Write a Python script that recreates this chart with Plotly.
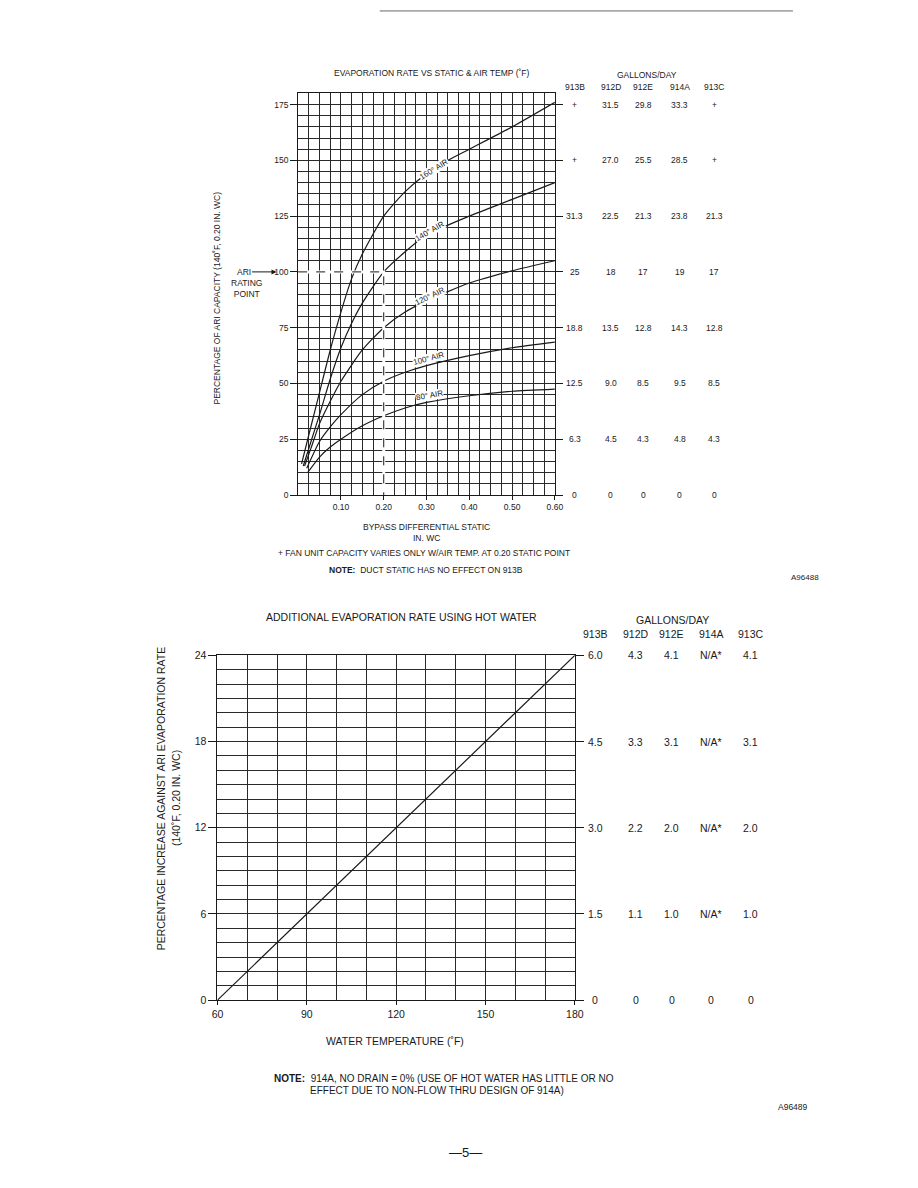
import plotly.graph_objects as go

W, H = 918, 1188
FONT = "Liberation Sans, Arial, sans-serif"
INK = "#1a1a1a"
GRID = "#2a2a2a"

# ---------------- Top chart data ----------------
air_labels = ["80° AIR", "100° AIR", "120° AIR", "140° AIR", "160° AIR"]
static_80 = [0.022, 0.05, 0.075, 0.10, 0.15, 0.20, 0.25, 0.30, 0.40, 0.50, 0.60]
pct_80 = [10, 17, 21.5, 25, 31, 35.5, 39, 41.5, 44.5, 46.5, 47.5]
static_100 = [0.020, 0.05, 0.075, 0.10, 0.15, 0.20, 0.25, 0.30, 0.40, 0.50, 0.60]
pct_100 = [12, 24, 30.5, 36, 45, 51, 55, 58, 62.5, 66, 68.5]
static_120 = [0.015, 0.03, 0.05, 0.075, 0.10, 0.15, 0.20, 0.25, 0.30, 0.40, 0.50, 0.60]
pct_120 = [13, 21, 32, 42, 51, 65, 75, 82, 87, 95, 100.5, 105]
static_140 = [0.012, 0.03, 0.05, 0.075, 0.10, 0.125, 0.15, 0.20, 0.25, 0.30, 0.40, 0.50, 0.60]
pct_140 = [13, 24, 36, 52, 66, 77, 86, 100, 109, 116.5, 125, 132.5, 140]
static_160 = [0.008, 0.025, 0.05, 0.075, 0.10, 0.125, 0.15, 0.20, 0.25, 0.30, 0.35, 0.40, 0.50, 0.60]
pct_160 = [14, 27, 46, 65, 82, 97, 108, 125, 136, 144, 150, 155, 165, 176]

# label positions along curves (static, pct, angle)
label_static = [0.307, 0.306, 0.307, 0.307, 0.317]
label_pct = [44.5, 61, 89, 118, 146]
label_angle = [-10, -15, -26, -30, -32]

ari_static = 0.20
ari_pct = 100

top_xticks = [0.10, 0.20, 0.30, 0.40, 0.50, 0.60]
top_xtick_text = ["0.10", "0.20", "0.30", "0.40", "0.50", "0.60"]
top_yticks = [0, 25, 50, 75, 100, 125, 150, 175]

top_models = ["913B", "912D", "912E", "914A", "913C"]
top_rows = [175, 150, 125, 100, 75, 50, 25, 0]
top_913B = ["+", "+", "31.3", "25", "18.8", "12.5", "6.3", "0"]
top_912D = ["31.5", "27.0", "22.5", "18", "13.5", "9.0", "4.5", "0"]
top_912E = ["29.8", "25.5", "21.3", "17", "12.8", "8.5", "4.3", "0"]
top_914A = ["33.3", "28.5", "23.8", "19", "14.3", "9.5", "4.8", "0"]
top_913C = ["+", "+", "21.3", "17", "12.8", "8.5", "4.3", "0"]

# ---------------- Bottom chart data ----------------
water_temp = [60, 180]
pct_increase = [0, 24]
bot_xticks = [60, 90, 120, 150, 180]
bot_yticks = [0, 6, 12, 18, 24]
bot_rows = [24, 18, 12, 6, 0]
bot_913B = ["6.0", "4.5", "3.0", "1.5", "0"]
bot_912D = ["4.3", "3.3", "2.2", "1.1", "0"]
bot_912E = ["4.1", "3.1", "2.0", "1.0", "0"]
bot_914A = ["N/A*", "N/A*", "N/A*", "N/A*", "0"]
bot_913C = ["4.1", "3.1", "2.0", "1.0", "0"]


def px(x):
    return x / W


def py(y):
    return 1 - y / H


fig = go.Figure()

curves = [(static_80, pct_80), (static_100, pct_100), (static_120, pct_120),
          (static_140, pct_140), (static_160, pct_160)]
for (xs, ys), name in zip(curves, air_labels):
    fig.add_trace(go.Scatter(x=xs, y=ys, mode="lines",
                             line=dict(color=INK, width=1.2, shape="spline", smoothing=0.6),
                             name=name, xaxis="x", yaxis="y", showlegend=False, hoverinfo="skip"))

# ARI rating point guide: white underlay hides the grid, then dashed line
fig.add_trace(go.Scatter(x=[0, ari_static, ari_static], y=[ari_pct, ari_pct, 0], mode="lines",
                         line=dict(color="white", width=3), xaxis="x", yaxis="y",
                         showlegend=False, hoverinfo="skip"))
fig.add_trace(go.Scatter(x=[0, ari_static, ari_static], y=[ari_pct, ari_pct, 0], mode="lines",
                         line=dict(color=INK, width=1, dash="dash"), xaxis="x", yaxis="y",
                         showlegend=False, hoverinfo="skip"))

fig.add_trace(go.Scatter(x=water_temp, y=pct_increase, mode="lines", line=dict(color=INK, width=1.2),
                         xaxis="x2", yaxis="y2", showlegend=False, hoverinfo="skip"))

axis_common = dict(showline=True, linecolor=INK, linewidth=1, zeroline=False,
                   gridcolor=GRID, gridwidth=1, ticks="outside", tickcolor=INK, fixedrange=True)

fig.update_layout(
    width=W, height=H, margin=dict(l=0, r=0, t=0, b=0),
    paper_bgcolor="white", plot_bgcolor="white",
    font=dict(family=FONT, color=INK),
    xaxis=dict(domain=[px(297), px(558)], range=[0, 0.6], tickmode="array",
               tickvals=top_xticks, ticktext=top_xtick_text, ticklen=4, mirror=True,
               minor=dict(tickmode="linear", tick0=0, dtick=0.025, showgrid=True,
                          gridcolor=GRID, gridwidth=1),
               tickfont=dict(family=FONT, color=INK, size=8.5), anchor="y", **axis_common),
    yaxis=dict(domain=[py(494), py(88.3)], range=[0, 180], tickmode="array",
               tickvals=top_yticks, ticklen=7, mirror="ticks",
               minor=dict(tickmode="linear", tick0=0, dtick=5, showgrid=True,
                          gridcolor=GRID, gridwidth=1),
               tickfont=dict(family=FONT, color=INK, size=8.5), anchor="x", **axis_common),
    xaxis2=dict(domain=[px(215), px(578.3)], range=[60, 180], tickmode="array",
                tickvals=bot_xticks, ticklen=4, mirror=True,
                minor=dict(tickmode="linear", tick0=60, dtick=10, showgrid=True,
                           gridcolor=GRID, gridwidth=1),
                tickfont=dict(family=FONT, color=INK, size=10.5), anchor="y2", **axis_common),
    yaxis2=dict(domain=[py(1004.3), py(656)], range=[0, 24], tickmode="array",
                tickvals=bot_yticks, ticklen=8, mirror="ticks",
                minor=dict(tickmode="linear", tick0=0, dtick=1, showgrid=True,
                           gridcolor=GRID, gridwidth=1),
                tickfont=dict(family=FONT, color=INK, size=10.5), anchor="x2", **axis_common),
)

ann = []


def text(x, y, s, size, xanchor="center", yanchor="middle", angle=0, xref="paper", yref="paper", **kw):
    ann.append(dict(x=x, y=y, text=s, xref=xref, yref=yref, showarrow=False, xanchor=xanchor,
                    yanchor=yanchor, textangle=angle, font=dict(family=FONT, size=size, color=INK), **kw))


# curve labels (white box breaks the curve like the original)
for lx, ly, la, name in zip(label_static, label_pct, label_angle, air_labels):
    text(lx, ly, name, 8, angle=la, xref="x", yref="y", bgcolor="white", borderpad=0)

# top chart texts
text(px(433), py(68), "EVAPORATION RATE VS STATIC &amp; AIR TEMP (˚F)", 8.5)
text(px(652), py(70), "GALLONS/DAY", 8.5)
top_cols_x = [578, 615, 648, 685, 720]
for cx, name in zip(top_cols_x, top_models):
    text(px(cx), py(82), name, 8.5)
for col, cx in zip([top_913B, top_912D, top_912E, top_914A, top_913C], top_cols_x):
    for r, v in zip(top_rows, col):
        text(px(cx), r, v, 8.5, yref="y")

text(px(215), py(295), "PERCENTAGE OF ARI CAPACITY (140˚F, 0.20 IN. WC)", 8.5, angle=-90)
ann.append(dict(x=px(275), y=ari_pct, xref="paper", yref="y", text="ARI", showarrow=True,
                ax=-33, ay=0, arrowhead=2, arrowsize=1, arrowwidth=1, arrowcolor=INK,
                font=dict(family=FONT, size=8.5, color=INK)))
text(px(244), py(285), "RATING<br>POINT", 8.5)

text(px(427), py(526), "BYPASS DIFFERENTIAL STATIC", 8.5)
text(px(427), py(537), "IN. WC", 8.5)
text(px(425), py(553), "+ FAN UNIT CAPACITY VARIES ONLY W/AIR TEMP. AT 0.20 STATIC POINT", 8.5)
text(px(427), py(570), "<b>NOTE:</b>  DUCT STATIC HAS NO EFFECT ON 913B", 8.5)
text(px(812), py(577), "A96488", 8)

# bottom chart texts
text(px(402), py(617), "ADDITIONAL EVAPORATION RATE USING HOT WATER", 10.5)
text(px(678), py(620), "GALLONS/DAY", 10.5)
bot_cols_x = [599, 640, 677, 717, 757]
for cx, name in zip(bot_cols_x, top_models):
    text(px(cx), py(634), name, 10.5)
for col, cx in zip([bot_913B, bot_912D, bot_912E, bot_914A, bot_913C], bot_cols_x):
    for r, v in zip(bot_rows, col):
        text(px(cx), r, v, 10.5, yref="y2")

text(px(157), py(800), "PERCENTAGE INCREASE AGAINST ARI EVAPORATION RATE", 10.5, angle=-90)
text(px(173), py(800), "(140˚F, 0.20 IN. WC)", 10.5, angle=-90)
text(px(395), py(1046), "WATER TEMPERATURE (˚F)", 10.5)
text(px(270), py(1083), "<b>NOTE:</b>  914A, NO DRAIN = 0% (USE OF HOT WATER HAS LITTLE OR NO", 10, xanchor="left")
text(px(307), py(1096), "EFFECT DUE TO NON-FLOW THRU DESIGN OF 914A)", 10, xanchor="left")
text(px(800), py(1112), "A96489", 8.5)
text(px(467), py(1158), "—5—", 13)

fig.update_layout(annotations=ann)

fig.add_shape(type="line", xref="paper", yref="paper", x0=px(380), x1=px(800), y0=py(5), y1=py(5),
              line=dict(color="#666", width=1))

fig.write_html("out.html")
